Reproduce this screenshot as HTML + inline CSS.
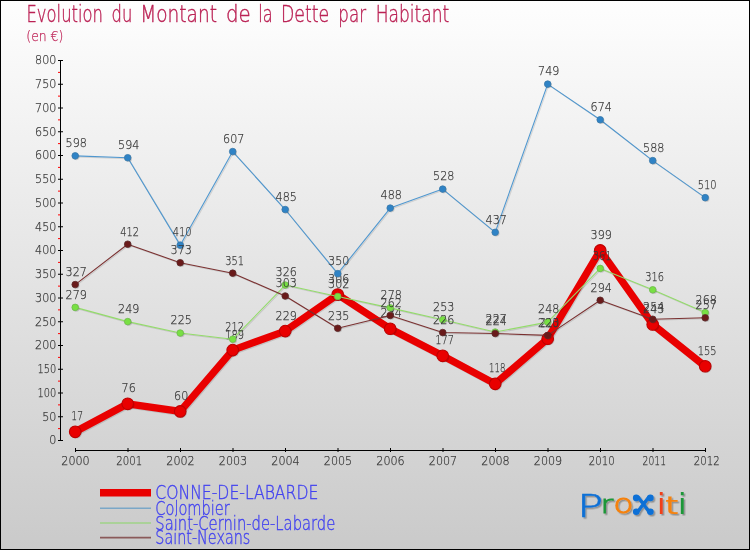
<!DOCTYPE html>
<html lang="fr"><head><meta charset="utf-8"><title>Evolution du Montant de la Dette par Habitant</title>
<style>html,body{margin:0;padding:0;background:#fff}svg{display:block}text{font-family:'DejaVu Sans Light','DejaVu Sans','Liberation Sans',sans-serif;font-weight:200;stroke-width:0.25px}</style></head><body>
<svg width="750" height="550" viewBox="0 0 750 550">
<defs><linearGradient id="bg" x1="0" y1="0" x2="0" y2="1"><stop offset="0" stop-color="#fefefe"/><stop offset="1" stop-color="#cacaca"/></linearGradient></defs>
<rect x="0" y="0" width="750" height="550" fill="#000"/>
<rect x="1" y="1" width="748" height="548" fill="url(#bg)"/>
<text y="22" font-size="23.5" fill="#bb2255" stroke="#bb2255" style="stroke-width:0.4px"><tspan x="26.5" textLength="76.5" lengthAdjust="spacingAndGlyphs">Evolution</tspan> <tspan x="111.5" textLength="20.8" lengthAdjust="spacingAndGlyphs">du</tspan> <tspan x="140.2" textLength="76.8" lengthAdjust="spacingAndGlyphs">Montant</tspan> <tspan x="226.0" textLength="24.7" lengthAdjust="spacingAndGlyphs">de</tspan> <tspan x="258.3" textLength="14.4" lengthAdjust="spacingAndGlyphs">la</tspan> <tspan x="281.0" textLength="48.3" lengthAdjust="spacingAndGlyphs">Dette</tspan> <tspan x="338.3" textLength="27.7" lengthAdjust="spacingAndGlyphs">par</tspan> <tspan x="375.7" textLength="73.6" lengthAdjust="spacingAndGlyphs">Habitant</tspan></text>
<text x="26.3" y="40.8" font-size="14.8" fill="#c0285a" stroke="#c0285a" text-anchor="start" textLength="37.0" lengthAdjust="spacingAndGlyphs">(en €)</text>
<g stroke="#000" stroke-width="1">
<line x1="60.5" y1="60" x2="60.5" y2="441"/>
<line x1="58" y1="440.50" x2="63" y2="440.50"/>
<line x1="58" y1="416.75" x2="63" y2="416.75"/>
<line x1="58" y1="393.00" x2="63" y2="393.00"/>
<line x1="58" y1="369.25" x2="63" y2="369.25"/>
<line x1="58" y1="345.50" x2="63" y2="345.50"/>
<line x1="58" y1="321.75" x2="63" y2="321.75"/>
<line x1="58" y1="298.00" x2="63" y2="298.00"/>
<line x1="58" y1="274.25" x2="63" y2="274.25"/>
<line x1="58" y1="250.50" x2="63" y2="250.50"/>
<line x1="58" y1="226.75" x2="63" y2="226.75"/>
<line x1="58" y1="203.00" x2="63" y2="203.00"/>
<line x1="58" y1="179.25" x2="63" y2="179.25"/>
<line x1="58" y1="155.50" x2="63" y2="155.50"/>
<line x1="58" y1="131.75" x2="63" y2="131.75"/>
<line x1="58" y1="108.00" x2="63" y2="108.00"/>
<line x1="58" y1="84.25" x2="63" y2="84.25"/>
<line x1="58" y1="60.50" x2="63" y2="60.50"/>
<line x1="75" y1="450.5" x2="706" y2="450.5"/>
<line x1="75.50" y1="448" x2="75.50" y2="452"/>
<line x1="128.00" y1="448" x2="128.00" y2="452"/>
<line x1="180.50" y1="448" x2="180.50" y2="452"/>
<line x1="233.00" y1="448" x2="233.00" y2="452"/>
<line x1="285.50" y1="448" x2="285.50" y2="452"/>
<line x1="338.00" y1="448" x2="338.00" y2="452"/>
<line x1="390.50" y1="448" x2="390.50" y2="452"/>
<line x1="443.00" y1="448" x2="443.00" y2="452"/>
<line x1="495.50" y1="448" x2="495.50" y2="452"/>
<line x1="548.00" y1="448" x2="548.00" y2="452"/>
<line x1="600.50" y1="448" x2="600.50" y2="452"/>
<line x1="653.00" y1="448" x2="653.00" y2="452"/>
<line x1="705.50" y1="448" x2="705.50" y2="452"/>
</g>
<g stroke="#f00" stroke-width="1">
<line x1="58" y1="428.62" x2="60" y2="428.62"/>
<line x1="58" y1="404.88" x2="60" y2="404.88"/>
<line x1="58" y1="381.12" x2="60" y2="381.12"/>
<line x1="58" y1="357.38" x2="60" y2="357.38"/>
<line x1="58" y1="333.62" x2="60" y2="333.62"/>
<line x1="58" y1="309.88" x2="60" y2="309.88"/>
<line x1="58" y1="286.12" x2="60" y2="286.12"/>
<line x1="58" y1="262.38" x2="60" y2="262.38"/>
<line x1="58" y1="238.62" x2="60" y2="238.62"/>
<line x1="58" y1="214.88" x2="60" y2="214.88"/>
<line x1="58" y1="191.12" x2="60" y2="191.12"/>
<line x1="58" y1="167.38" x2="60" y2="167.38"/>
<line x1="58" y1="143.62" x2="60" y2="143.62"/>
<line x1="58" y1="119.88" x2="60" y2="119.88"/>
<line x1="58" y1="96.12" x2="60" y2="96.12"/>
<line x1="58" y1="72.38" x2="60" y2="72.38"/>
</g>
<text x="56.4" y="444.4" font-size="13.0" fill="#383838" stroke="#383838" text-anchor="end" textLength="7.1" lengthAdjust="spacingAndGlyphs">0</text>
<text x="56.4" y="420.6" font-size="13.0" fill="#383838" stroke="#383838" text-anchor="end" textLength="14.2" lengthAdjust="spacingAndGlyphs">50</text>
<text x="56.4" y="396.9" font-size="13.0" fill="#383838" stroke="#383838" text-anchor="end" textLength="18.8" lengthAdjust="spacingAndGlyphs">100</text>
<text x="56.4" y="373.1" font-size="13.0" fill="#383838" stroke="#383838" text-anchor="end" textLength="18.8" lengthAdjust="spacingAndGlyphs">150</text>
<text x="56.4" y="349.4" font-size="13.0" fill="#383838" stroke="#383838" text-anchor="end" textLength="21.3" lengthAdjust="spacingAndGlyphs">200</text>
<text x="56.4" y="325.6" font-size="13.0" fill="#383838" stroke="#383838" text-anchor="end" textLength="21.3" lengthAdjust="spacingAndGlyphs">250</text>
<text x="56.4" y="301.9" font-size="13.0" fill="#383838" stroke="#383838" text-anchor="end" textLength="21.3" lengthAdjust="spacingAndGlyphs">300</text>
<text x="56.4" y="278.1" font-size="13.0" fill="#383838" stroke="#383838" text-anchor="end" textLength="21.3" lengthAdjust="spacingAndGlyphs">350</text>
<text x="56.4" y="254.4" font-size="13.0" fill="#383838" stroke="#383838" text-anchor="end" textLength="21.3" lengthAdjust="spacingAndGlyphs">400</text>
<text x="56.4" y="230.7" font-size="13.0" fill="#383838" stroke="#383838" text-anchor="end" textLength="21.3" lengthAdjust="spacingAndGlyphs">450</text>
<text x="56.4" y="206.9" font-size="13.0" fill="#383838" stroke="#383838" text-anchor="end" textLength="21.3" lengthAdjust="spacingAndGlyphs">500</text>
<text x="56.4" y="183.2" font-size="13.0" fill="#383838" stroke="#383838" text-anchor="end" textLength="21.3" lengthAdjust="spacingAndGlyphs">550</text>
<text x="56.4" y="159.4" font-size="13.0" fill="#383838" stroke="#383838" text-anchor="end" textLength="21.3" lengthAdjust="spacingAndGlyphs">600</text>
<text x="56.4" y="135.7" font-size="13.0" fill="#383838" stroke="#383838" text-anchor="end" textLength="21.3" lengthAdjust="spacingAndGlyphs">650</text>
<text x="56.4" y="111.9" font-size="13.0" fill="#383838" stroke="#383838" text-anchor="end" textLength="21.3" lengthAdjust="spacingAndGlyphs">700</text>
<text x="56.4" y="88.2" font-size="13.0" fill="#383838" stroke="#383838" text-anchor="end" textLength="21.3" lengthAdjust="spacingAndGlyphs">750</text>
<text x="56.4" y="64.4" font-size="13.0" fill="#383838" stroke="#383838" text-anchor="end" textLength="21.3" lengthAdjust="spacingAndGlyphs">800</text>
<text x="75.5" y="464.7" font-size="13.0" fill="#383838" stroke="#383838" text-anchor="middle" textLength="28.4" lengthAdjust="spacingAndGlyphs">2000</text>
<text x="129.3" y="464.7" font-size="13.0" fill="#383838" stroke="#383838" text-anchor="middle" textLength="25.9" lengthAdjust="spacingAndGlyphs">2001</text>
<text x="180.5" y="464.7" font-size="13.0" fill="#383838" stroke="#383838" text-anchor="middle" textLength="28.4" lengthAdjust="spacingAndGlyphs">2002</text>
<text x="233.0" y="464.7" font-size="13.0" fill="#383838" stroke="#383838" text-anchor="middle" textLength="28.4" lengthAdjust="spacingAndGlyphs">2003</text>
<text x="285.5" y="464.7" font-size="13.0" fill="#383838" stroke="#383838" text-anchor="middle" textLength="28.4" lengthAdjust="spacingAndGlyphs">2004</text>
<text x="338.0" y="464.7" font-size="13.0" fill="#383838" stroke="#383838" text-anchor="middle" textLength="28.4" lengthAdjust="spacingAndGlyphs">2005</text>
<text x="390.5" y="464.7" font-size="13.0" fill="#383838" stroke="#383838" text-anchor="middle" textLength="28.4" lengthAdjust="spacingAndGlyphs">2006</text>
<text x="443.0" y="464.7" font-size="13.0" fill="#383838" stroke="#383838" text-anchor="middle" textLength="28.4" lengthAdjust="spacingAndGlyphs">2007</text>
<text x="495.5" y="464.7" font-size="13.0" fill="#383838" stroke="#383838" text-anchor="middle" textLength="28.4" lengthAdjust="spacingAndGlyphs">2008</text>
<text x="548.0" y="464.7" font-size="13.0" fill="#383838" stroke="#383838" text-anchor="middle" textLength="28.4" lengthAdjust="spacingAndGlyphs">2009</text>
<text x="601.8" y="464.7" font-size="13.0" fill="#383838" stroke="#383838" text-anchor="middle" textLength="25.9" lengthAdjust="spacingAndGlyphs">2010</text>
<text x="654.3" y="464.7" font-size="13.0" fill="#383838" stroke="#383838" text-anchor="middle" textLength="23.4" lengthAdjust="spacingAndGlyphs">2011</text>
<text x="706.8" y="464.7" font-size="13.0" fill="#383838" stroke="#383838" text-anchor="middle" textLength="25.9" lengthAdjust="spacingAndGlyphs">2012</text>
<polyline points="75.20,431.82 127.70,403.80 180.20,411.40 232.70,350.12 285.20,331.12 337.70,294.55 390.20,328.75 442.70,355.82 495.20,383.85 547.70,338.72 600.20,250.38 652.70,324.47 705.20,366.27" fill="none" stroke="#000" stroke-opacity="0.12" stroke-width="7.3" stroke-linejoin="round" transform="translate(1,1)"/>
<polyline points="75.20,431.82 127.70,403.80 180.20,411.40 232.70,350.12 285.20,331.12 337.70,294.55 390.20,328.75 442.70,355.82 495.20,383.85 547.70,338.72 600.20,250.38 652.70,324.47 705.20,366.27" fill="none" stroke="#e90000" stroke-width="7.3" stroke-linejoin="round"/>
<text x="77.2" y="420.3" font-size="13.0" fill="#383838" stroke="#383838" text-anchor="middle" textLength="11.7" lengthAdjust="spacingAndGlyphs">17</text>
<text x="128.7" y="392.3" font-size="13.0" fill="#383838" stroke="#383838" text-anchor="middle" textLength="14.2" lengthAdjust="spacingAndGlyphs">76</text>
<text x="181.2" y="399.9" font-size="13.0" fill="#383838" stroke="#383838" text-anchor="middle" textLength="14.2" lengthAdjust="spacingAndGlyphs">60</text>
<text x="234.7" y="338.6" font-size="13.0" fill="#383838" stroke="#383838" text-anchor="middle" textLength="18.8" lengthAdjust="spacingAndGlyphs">189</text>
<text x="286.2" y="319.6" font-size="13.0" fill="#383838" stroke="#383838" text-anchor="middle" textLength="21.3" lengthAdjust="spacingAndGlyphs">229</text>
<text x="338.7" y="283.0" font-size="13.0" fill="#383838" stroke="#383838" text-anchor="middle" textLength="21.3" lengthAdjust="spacingAndGlyphs">306</text>
<text x="391.2" y="317.2" font-size="13.0" fill="#383838" stroke="#383838" text-anchor="middle" textLength="21.3" lengthAdjust="spacingAndGlyphs">234</text>
<text x="444.7" y="344.3" font-size="13.0" fill="#383838" stroke="#383838" text-anchor="middle" textLength="18.8" lengthAdjust="spacingAndGlyphs">177</text>
<text x="497.2" y="372.3" font-size="13.0" fill="#383838" stroke="#383838" text-anchor="middle" textLength="16.3" lengthAdjust="spacingAndGlyphs">118</text>
<text x="549.7" y="327.2" font-size="13.0" fill="#383838" stroke="#383838" text-anchor="middle" textLength="18.8" lengthAdjust="spacingAndGlyphs">213</text>
<text x="601.2" y="238.9" font-size="13.0" fill="#383838" stroke="#383838" text-anchor="middle" textLength="21.3" lengthAdjust="spacingAndGlyphs">399</text>
<text x="653.7" y="313.0" font-size="13.0" fill="#383838" stroke="#383838" text-anchor="middle" textLength="21.3" lengthAdjust="spacingAndGlyphs">243</text>
<text x="707.2" y="354.8" font-size="13.0" fill="#383838" stroke="#383838" text-anchor="middle" textLength="18.8" lengthAdjust="spacingAndGlyphs">155</text>
<circle cx="76.20" cy="432.82" r="5.8" fill="#000" fill-opacity="0.15"/>
<circle cx="75.20" cy="431.82" r="5.8" fill="#e90000" stroke="#bd0000" stroke-width="1.1"/>
<circle cx="128.70" cy="404.80" r="5.8" fill="#000" fill-opacity="0.15"/>
<circle cx="127.70" cy="403.80" r="5.8" fill="#e90000" stroke="#bd0000" stroke-width="1.1"/>
<circle cx="181.20" cy="412.40" r="5.8" fill="#000" fill-opacity="0.15"/>
<circle cx="180.20" cy="411.40" r="5.8" fill="#e90000" stroke="#bd0000" stroke-width="1.1"/>
<circle cx="233.70" cy="351.12" r="5.8" fill="#000" fill-opacity="0.15"/>
<circle cx="232.70" cy="350.12" r="5.8" fill="#e90000" stroke="#bd0000" stroke-width="1.1"/>
<circle cx="286.20" cy="332.12" r="5.8" fill="#000" fill-opacity="0.15"/>
<circle cx="285.20" cy="331.12" r="5.8" fill="#e90000" stroke="#bd0000" stroke-width="1.1"/>
<circle cx="338.70" cy="295.55" r="5.8" fill="#000" fill-opacity="0.15"/>
<circle cx="337.70" cy="294.55" r="5.8" fill="#e90000" stroke="#bd0000" stroke-width="1.1"/>
<circle cx="391.20" cy="329.75" r="5.8" fill="#000" fill-opacity="0.15"/>
<circle cx="390.20" cy="328.75" r="5.8" fill="#e90000" stroke="#bd0000" stroke-width="1.1"/>
<circle cx="443.70" cy="356.82" r="5.8" fill="#000" fill-opacity="0.15"/>
<circle cx="442.70" cy="355.82" r="5.8" fill="#e90000" stroke="#bd0000" stroke-width="1.1"/>
<circle cx="496.20" cy="384.85" r="5.8" fill="#000" fill-opacity="0.15"/>
<circle cx="495.20" cy="383.85" r="5.8" fill="#e90000" stroke="#bd0000" stroke-width="1.1"/>
<circle cx="548.70" cy="339.72" r="5.8" fill="#000" fill-opacity="0.15"/>
<circle cx="547.70" cy="338.72" r="5.8" fill="#e90000" stroke="#bd0000" stroke-width="1.1"/>
<circle cx="601.20" cy="251.38" r="5.8" fill="#000" fill-opacity="0.15"/>
<circle cx="600.20" cy="250.38" r="5.8" fill="#e90000" stroke="#bd0000" stroke-width="1.1"/>
<circle cx="653.70" cy="325.47" r="5.8" fill="#000" fill-opacity="0.15"/>
<circle cx="652.70" cy="324.47" r="5.8" fill="#e90000" stroke="#bd0000" stroke-width="1.1"/>
<circle cx="706.20" cy="367.27" r="5.8" fill="#000" fill-opacity="0.15"/>
<circle cx="705.20" cy="366.27" r="5.8" fill="#e90000" stroke="#bd0000" stroke-width="1.1"/>
<polyline points="75.20,155.85 127.70,157.75 180.20,245.15 232.70,151.57 285.20,209.52 337.70,273.65 390.20,208.10 442.70,189.10 495.20,232.32 547.70,84.12 600.20,119.75 652.70,160.60 705.20,197.65" fill="none" stroke="#000" stroke-opacity="0.12" stroke-width="1.1" stroke-linejoin="round" transform="translate(1,1)"/>
<polyline points="75.20,155.85 127.70,157.75 180.20,245.15 232.70,151.57 285.20,209.52 337.70,273.65 390.20,208.10 442.70,189.10 495.20,232.32 547.70,84.12 600.20,119.75 652.70,160.60 705.20,197.65" fill="none" stroke="#4f97cf" stroke-width="1.1" stroke-linejoin="round"/>
<text x="76.2" y="147.1" font-size="13.0" fill="#383838" stroke="#383838" text-anchor="middle" textLength="21.3" lengthAdjust="spacingAndGlyphs">598</text>
<text x="128.7" y="149.1" font-size="13.0" fill="#383838" stroke="#383838" text-anchor="middle" textLength="21.3" lengthAdjust="spacingAndGlyphs">594</text>
<text x="182.2" y="236.4" font-size="13.0" fill="#383838" stroke="#383838" text-anchor="middle" textLength="18.8" lengthAdjust="spacingAndGlyphs">410</text>
<text x="233.7" y="142.9" font-size="13.0" fill="#383838" stroke="#383838" text-anchor="middle" textLength="21.3" lengthAdjust="spacingAndGlyphs">607</text>
<text x="286.2" y="200.8" font-size="13.0" fill="#383838" stroke="#383838" text-anchor="middle" textLength="21.3" lengthAdjust="spacingAndGlyphs">485</text>
<text x="338.7" y="264.9" font-size="13.0" fill="#383838" stroke="#383838" text-anchor="middle" textLength="21.3" lengthAdjust="spacingAndGlyphs">350</text>
<text x="391.2" y="199.4" font-size="13.0" fill="#383838" stroke="#383838" text-anchor="middle" textLength="21.3" lengthAdjust="spacingAndGlyphs">488</text>
<text x="443.7" y="180.4" font-size="13.0" fill="#383838" stroke="#383838" text-anchor="middle" textLength="21.3" lengthAdjust="spacingAndGlyphs">528</text>
<text x="496.2" y="223.6" font-size="13.0" fill="#383838" stroke="#383838" text-anchor="middle" textLength="21.3" lengthAdjust="spacingAndGlyphs">437</text>
<text x="548.7" y="75.4" font-size="13.0" fill="#383838" stroke="#383838" text-anchor="middle" textLength="21.3" lengthAdjust="spacingAndGlyphs">749</text>
<text x="601.2" y="111.0" font-size="13.0" fill="#383838" stroke="#383838" text-anchor="middle" textLength="21.3" lengthAdjust="spacingAndGlyphs">674</text>
<text x="653.7" y="151.9" font-size="13.0" fill="#383838" stroke="#383838" text-anchor="middle" textLength="21.3" lengthAdjust="spacingAndGlyphs">588</text>
<text x="707.2" y="188.9" font-size="13.0" fill="#383838" stroke="#383838" text-anchor="middle" textLength="18.8" lengthAdjust="spacingAndGlyphs">510</text>
<circle cx="76.20" cy="156.85" r="3.3" fill="#000" fill-opacity="0.15"/>
<circle cx="75.20" cy="155.85" r="3.3" fill="#2f83c6" stroke="#3a78a8" stroke-width="0.8"/>
<circle cx="128.70" cy="158.75" r="3.3" fill="#000" fill-opacity="0.15"/>
<circle cx="127.70" cy="157.75" r="3.3" fill="#2f83c6" stroke="#3a78a8" stroke-width="0.8"/>
<circle cx="181.20" cy="246.15" r="3.3" fill="#000" fill-opacity="0.15"/>
<circle cx="180.20" cy="245.15" r="3.3" fill="#2f83c6" stroke="#3a78a8" stroke-width="0.8"/>
<circle cx="233.70" cy="152.57" r="3.3" fill="#000" fill-opacity="0.15"/>
<circle cx="232.70" cy="151.57" r="3.3" fill="#2f83c6" stroke="#3a78a8" stroke-width="0.8"/>
<circle cx="286.20" cy="210.52" r="3.3" fill="#000" fill-opacity="0.15"/>
<circle cx="285.20" cy="209.52" r="3.3" fill="#2f83c6" stroke="#3a78a8" stroke-width="0.8"/>
<circle cx="338.70" cy="274.65" r="3.3" fill="#000" fill-opacity="0.15"/>
<circle cx="337.70" cy="273.65" r="3.3" fill="#2f83c6" stroke="#3a78a8" stroke-width="0.8"/>
<circle cx="391.20" cy="209.10" r="3.3" fill="#000" fill-opacity="0.15"/>
<circle cx="390.20" cy="208.10" r="3.3" fill="#2f83c6" stroke="#3a78a8" stroke-width="0.8"/>
<circle cx="443.70" cy="190.10" r="3.3" fill="#000" fill-opacity="0.15"/>
<circle cx="442.70" cy="189.10" r="3.3" fill="#2f83c6" stroke="#3a78a8" stroke-width="0.8"/>
<circle cx="496.20" cy="233.32" r="3.3" fill="#000" fill-opacity="0.15"/>
<circle cx="495.20" cy="232.32" r="3.3" fill="#2f83c6" stroke="#3a78a8" stroke-width="0.8"/>
<circle cx="548.70" cy="85.12" r="3.3" fill="#000" fill-opacity="0.15"/>
<circle cx="547.70" cy="84.12" r="3.3" fill="#2f83c6" stroke="#3a78a8" stroke-width="0.8"/>
<circle cx="601.20" cy="120.75" r="3.3" fill="#000" fill-opacity="0.15"/>
<circle cx="600.20" cy="119.75" r="3.3" fill="#2f83c6" stroke="#3a78a8" stroke-width="0.8"/>
<circle cx="653.70" cy="161.60" r="3.3" fill="#000" fill-opacity="0.15"/>
<circle cx="652.70" cy="160.60" r="3.3" fill="#2f83c6" stroke="#3a78a8" stroke-width="0.8"/>
<circle cx="706.20" cy="198.65" r="3.3" fill="#000" fill-opacity="0.15"/>
<circle cx="705.20" cy="197.65" r="3.3" fill="#2f83c6" stroke="#3a78a8" stroke-width="0.8"/>
<polyline points="75.20,307.38 127.70,321.62 180.20,333.02 232.70,339.20 285.20,285.05 337.70,296.45 390.20,307.85 442.70,319.72 495.20,332.07 547.70,322.10 600.20,268.42 652.70,289.80 705.20,312.60" fill="none" stroke="#000" stroke-opacity="0.12" stroke-width="1.1" stroke-linejoin="round" transform="translate(1,1)"/>
<polyline points="75.20,307.38 127.70,321.62 180.20,333.02 232.70,339.20 285.20,285.05 337.70,296.45 390.20,307.85 442.70,319.72 495.20,332.07 547.70,322.10 600.20,268.42 652.70,289.80 705.20,312.60" fill="none" stroke="#93dc6a" stroke-width="1.1" stroke-linejoin="round"/>
<text x="76.2" y="298.7" font-size="13.0" fill="#383838" stroke="#383838" text-anchor="middle" textLength="21.3" lengthAdjust="spacingAndGlyphs">279</text>
<text x="128.7" y="312.9" font-size="13.0" fill="#383838" stroke="#383838" text-anchor="middle" textLength="21.3" lengthAdjust="spacingAndGlyphs">249</text>
<text x="181.2" y="324.3" font-size="13.0" fill="#383838" stroke="#383838" text-anchor="middle" textLength="21.3" lengthAdjust="spacingAndGlyphs">225</text>
<text x="234.7" y="330.5" font-size="13.0" fill="#383838" stroke="#383838" text-anchor="middle" textLength="18.8" lengthAdjust="spacingAndGlyphs">212</text>
<text x="286.2" y="276.3" font-size="13.0" fill="#383838" stroke="#383838" text-anchor="middle" textLength="21.3" lengthAdjust="spacingAndGlyphs">326</text>
<text x="338.7" y="287.8" font-size="13.0" fill="#383838" stroke="#383838" text-anchor="middle" textLength="21.3" lengthAdjust="spacingAndGlyphs">302</text>
<text x="391.2" y="299.2" font-size="13.0" fill="#383838" stroke="#383838" text-anchor="middle" textLength="21.3" lengthAdjust="spacingAndGlyphs">278</text>
<text x="443.7" y="311.0" font-size="13.0" fill="#383838" stroke="#383838" text-anchor="middle" textLength="21.3" lengthAdjust="spacingAndGlyphs">253</text>
<text x="496.2" y="323.4" font-size="13.0" fill="#383838" stroke="#383838" text-anchor="middle" textLength="21.3" lengthAdjust="spacingAndGlyphs">227</text>
<text x="548.7" y="313.4" font-size="13.0" fill="#383838" stroke="#383838" text-anchor="middle" textLength="21.3" lengthAdjust="spacingAndGlyphs">248</text>
<text x="602.2" y="259.7" font-size="13.0" fill="#383838" stroke="#383838" text-anchor="middle" textLength="18.8" lengthAdjust="spacingAndGlyphs">361</text>
<text x="654.7" y="281.1" font-size="13.0" fill="#383838" stroke="#383838" text-anchor="middle" textLength="18.8" lengthAdjust="spacingAndGlyphs">316</text>
<text x="706.2" y="303.9" font-size="13.0" fill="#383838" stroke="#383838" text-anchor="middle" textLength="21.3" lengthAdjust="spacingAndGlyphs">268</text>
<circle cx="76.20" cy="308.38" r="3.3" fill="#000" fill-opacity="0.15"/>
<circle cx="75.20" cy="307.38" r="3.3" fill="#78e043" stroke="#6fb84e" stroke-width="0.8"/>
<circle cx="128.70" cy="322.62" r="3.3" fill="#000" fill-opacity="0.15"/>
<circle cx="127.70" cy="321.62" r="3.3" fill="#78e043" stroke="#6fb84e" stroke-width="0.8"/>
<circle cx="181.20" cy="334.02" r="3.3" fill="#000" fill-opacity="0.15"/>
<circle cx="180.20" cy="333.02" r="3.3" fill="#78e043" stroke="#6fb84e" stroke-width="0.8"/>
<circle cx="233.70" cy="340.20" r="3.3" fill="#000" fill-opacity="0.15"/>
<circle cx="232.70" cy="339.20" r="3.3" fill="#78e043" stroke="#6fb84e" stroke-width="0.8"/>
<circle cx="286.20" cy="286.05" r="3.3" fill="#000" fill-opacity="0.15"/>
<circle cx="285.20" cy="285.05" r="3.3" fill="#78e043" stroke="#6fb84e" stroke-width="0.8"/>
<circle cx="338.70" cy="297.45" r="3.3" fill="#000" fill-opacity="0.15"/>
<circle cx="337.70" cy="296.45" r="3.3" fill="#78e043" stroke="#6fb84e" stroke-width="0.8"/>
<circle cx="391.20" cy="308.85" r="3.3" fill="#000" fill-opacity="0.15"/>
<circle cx="390.20" cy="307.85" r="3.3" fill="#78e043" stroke="#6fb84e" stroke-width="0.8"/>
<circle cx="443.70" cy="320.72" r="3.3" fill="#000" fill-opacity="0.15"/>
<circle cx="442.70" cy="319.72" r="3.3" fill="#78e043" stroke="#6fb84e" stroke-width="0.8"/>
<circle cx="496.20" cy="333.07" r="3.3" fill="#000" fill-opacity="0.15"/>
<circle cx="495.20" cy="332.07" r="3.3" fill="#78e043" stroke="#6fb84e" stroke-width="0.8"/>
<circle cx="548.70" cy="323.10" r="3.3" fill="#000" fill-opacity="0.15"/>
<circle cx="547.70" cy="322.10" r="3.3" fill="#78e043" stroke="#6fb84e" stroke-width="0.8"/>
<circle cx="601.20" cy="269.42" r="3.3" fill="#000" fill-opacity="0.15"/>
<circle cx="600.20" cy="268.42" r="3.3" fill="#78e043" stroke="#6fb84e" stroke-width="0.8"/>
<circle cx="653.70" cy="290.80" r="3.3" fill="#000" fill-opacity="0.15"/>
<circle cx="652.70" cy="289.80" r="3.3" fill="#78e043" stroke="#6fb84e" stroke-width="0.8"/>
<circle cx="706.20" cy="313.60" r="3.3" fill="#000" fill-opacity="0.15"/>
<circle cx="705.20" cy="312.60" r="3.3" fill="#78e043" stroke="#6fb84e" stroke-width="0.8"/>
<polyline points="75.20,284.57 127.70,244.20 180.20,262.73 232.70,273.17 285.20,295.98 337.70,328.27 390.20,315.45 442.70,332.55 495.20,333.50 547.70,335.40 600.20,300.25 652.70,319.25 705.20,317.82" fill="none" stroke="#000" stroke-opacity="0.12" stroke-width="1.1" stroke-linejoin="round" transform="translate(1,1)"/>
<polyline points="75.20,284.57 127.70,244.20 180.20,262.73 232.70,273.17 285.20,295.98 337.70,328.27 390.20,315.45 442.70,332.55 495.20,333.50 547.70,335.40 600.20,300.25 652.70,319.25 705.20,317.82" fill="none" stroke="#7a3030" stroke-width="1.1" stroke-linejoin="round"/>
<text x="76.2" y="275.9" font-size="13.0" fill="#383838" stroke="#383838" text-anchor="middle" textLength="21.3" lengthAdjust="spacingAndGlyphs">327</text>
<text x="129.7" y="235.5" font-size="13.0" fill="#383838" stroke="#383838" text-anchor="middle" textLength="18.8" lengthAdjust="spacingAndGlyphs">412</text>
<text x="181.2" y="254.0" font-size="13.0" fill="#383838" stroke="#383838" text-anchor="middle" textLength="21.3" lengthAdjust="spacingAndGlyphs">373</text>
<text x="234.7" y="264.5" font-size="13.0" fill="#383838" stroke="#383838" text-anchor="middle" textLength="18.8" lengthAdjust="spacingAndGlyphs">351</text>
<text x="286.2" y="287.3" font-size="13.0" fill="#383838" stroke="#383838" text-anchor="middle" textLength="21.3" lengthAdjust="spacingAndGlyphs">303</text>
<text x="338.7" y="319.6" font-size="13.0" fill="#383838" stroke="#383838" text-anchor="middle" textLength="21.3" lengthAdjust="spacingAndGlyphs">235</text>
<text x="391.2" y="306.8" font-size="13.0" fill="#383838" stroke="#383838" text-anchor="middle" textLength="21.3" lengthAdjust="spacingAndGlyphs">262</text>
<text x="443.7" y="323.8" font-size="13.0" fill="#383838" stroke="#383838" text-anchor="middle" textLength="21.3" lengthAdjust="spacingAndGlyphs">226</text>
<text x="496.2" y="324.8" font-size="13.0" fill="#383838" stroke="#383838" text-anchor="middle" textLength="21.3" lengthAdjust="spacingAndGlyphs">224</text>
<text x="548.7" y="326.7" font-size="13.0" fill="#383838" stroke="#383838" text-anchor="middle" textLength="21.3" lengthAdjust="spacingAndGlyphs">220</text>
<text x="601.2" y="291.6" font-size="13.0" fill="#383838" stroke="#383838" text-anchor="middle" textLength="21.3" lengthAdjust="spacingAndGlyphs">294</text>
<text x="653.7" y="310.6" font-size="13.0" fill="#383838" stroke="#383838" text-anchor="middle" textLength="21.3" lengthAdjust="spacingAndGlyphs">254</text>
<text x="706.2" y="309.1" font-size="13.0" fill="#383838" stroke="#383838" text-anchor="middle" textLength="21.3" lengthAdjust="spacingAndGlyphs">257</text>
<circle cx="76.20" cy="285.57" r="3.3" fill="#000" fill-opacity="0.15"/>
<circle cx="75.20" cy="284.57" r="3.3" fill="#6a1a1a" stroke="#5a2a2a" stroke-width="0.8"/>
<circle cx="128.70" cy="245.20" r="3.3" fill="#000" fill-opacity="0.15"/>
<circle cx="127.70" cy="244.20" r="3.3" fill="#6a1a1a" stroke="#5a2a2a" stroke-width="0.8"/>
<circle cx="181.20" cy="263.73" r="3.3" fill="#000" fill-opacity="0.15"/>
<circle cx="180.20" cy="262.73" r="3.3" fill="#6a1a1a" stroke="#5a2a2a" stroke-width="0.8"/>
<circle cx="233.70" cy="274.17" r="3.3" fill="#000" fill-opacity="0.15"/>
<circle cx="232.70" cy="273.17" r="3.3" fill="#6a1a1a" stroke="#5a2a2a" stroke-width="0.8"/>
<circle cx="286.20" cy="296.98" r="3.3" fill="#000" fill-opacity="0.15"/>
<circle cx="285.20" cy="295.98" r="3.3" fill="#6a1a1a" stroke="#5a2a2a" stroke-width="0.8"/>
<circle cx="338.70" cy="329.27" r="3.3" fill="#000" fill-opacity="0.15"/>
<circle cx="337.70" cy="328.27" r="3.3" fill="#6a1a1a" stroke="#5a2a2a" stroke-width="0.8"/>
<circle cx="391.20" cy="316.45" r="3.3" fill="#000" fill-opacity="0.15"/>
<circle cx="390.20" cy="315.45" r="3.3" fill="#6a1a1a" stroke="#5a2a2a" stroke-width="0.8"/>
<circle cx="443.70" cy="333.55" r="3.3" fill="#000" fill-opacity="0.15"/>
<circle cx="442.70" cy="332.55" r="3.3" fill="#6a1a1a" stroke="#5a2a2a" stroke-width="0.8"/>
<circle cx="496.20" cy="334.50" r="3.3" fill="#000" fill-opacity="0.15"/>
<circle cx="495.20" cy="333.50" r="3.3" fill="#6a1a1a" stroke="#5a2a2a" stroke-width="0.8"/>
<circle cx="548.70" cy="336.40" r="3.3" fill="#000" fill-opacity="0.15"/>
<circle cx="547.70" cy="335.40" r="3.3" fill="#6a1a1a" stroke="#5a2a2a" stroke-width="0.8"/>
<circle cx="601.20" cy="301.25" r="3.3" fill="#000" fill-opacity="0.15"/>
<circle cx="600.20" cy="300.25" r="3.3" fill="#6a1a1a" stroke="#5a2a2a" stroke-width="0.8"/>
<circle cx="653.70" cy="320.25" r="3.3" fill="#000" fill-opacity="0.15"/>
<circle cx="652.70" cy="319.25" r="3.3" fill="#6a1a1a" stroke="#5a2a2a" stroke-width="0.8"/>
<circle cx="706.20" cy="318.82" r="3.3" fill="#000" fill-opacity="0.15"/>
<circle cx="705.20" cy="317.82" r="3.3" fill="#6a1a1a" stroke="#5a2a2a" stroke-width="0.8"/>
<line x1="100" y1="492.7" x2="151" y2="492.7" stroke="#e90000" stroke-width="7.4"/>
<text x="155.3" y="498.6" font-size="19.3" fill="#4343f0" stroke="#4343f0" text-anchor="start" textLength="163.0" lengthAdjust="spacingAndGlyphs" style="stroke-width:0.4px">CONNE-DE-LABARDE</text>
<line x1="100" y1="508.2" x2="151" y2="508.2" stroke="#7ba7c7" stroke-width="1.6"/>
<text x="155.3" y="515.0" font-size="19.3" fill="#4343f0" stroke="#4343f0" text-anchor="start" textLength="74.5" lengthAdjust="spacingAndGlyphs" style="stroke-width:0.4px">Colombier</text>
<line x1="100" y1="523.0" x2="151" y2="523.0" stroke="#9fd387" stroke-width="1.6"/>
<text x="155.3" y="529.9" font-size="19.3" fill="#4343f0" stroke="#4343f0" text-anchor="start" textLength="180.0" lengthAdjust="spacingAndGlyphs" style="stroke-width:0.4px">Saint-Cernin-de-Labarde</text>
<line x1="100" y1="537.6" x2="151" y2="537.6" stroke="#8a5a5a" stroke-width="1.6"/>
<text x="155.3" y="544.2" font-size="19.3" fill="#4343f0" stroke="#4343f0" text-anchor="start" textLength="95.0" lengthAdjust="spacingAndGlyphs" style="stroke-width:0.4px">Saint-Nexans</text>
<defs><filter id="ls" x="-20%" y="-20%" width="140%" height="150%"><feDropShadow dx="1.5" dy="1.5" stdDeviation="0.7" flood-color="#000" flood-opacity="0.3"/></filter></defs>
<g filter="url(#ls)">
<text transform="translate(577.51,517.20) scale(1.628,1.226)" font-size="26" fill="#0f70d6" stroke="#0f70d6" style="font-family:'DejaVu Sans Light','DejaVu Sans','Liberation Sans',sans-serif;font-weight:200;stroke-width:0.60px">P</text>
<text transform="translate(600.44,513.40) scale(1.187,0.952)" font-size="26" fill="#1f9739" stroke="#1f9739" style="font-family:'DejaVu Sans Light','DejaVu Sans','Liberation Sans',sans-serif;font-weight:200;stroke-width:0.95px">r</text>
<text transform="translate(613.15,512.88) scale(1.277,1.047)" font-size="26" fill="#f5820f" stroke="#f5820f" style="font-family:'DejaVu Sans Light','DejaVu Sans','Liberation Sans',sans-serif;font-weight:200;stroke-width:0.95px">o</text>
<text transform="translate(634.17,513.00) scale(1.029,1.009)" font-size="30" fill="#0f70d6" stroke="#0f70d6" style="font-family:'DejaVu Sans','Liberation Sans',sans-serif;font-weight:400;stroke-width:0.70px">x</text>
<text transform="translate(657.32,513.90) scale(1.111,1.063)" font-size="26" fill="#f0401a" stroke="#f0401a" style="font-family:'DejaVu Sans','Liberation Sans',sans-serif;font-weight:400;stroke-width:0.20px">i</text>
<text transform="translate(665.24,513.90) scale(1.280,0.970)" font-size="26" fill="#f5820f" stroke="#f5820f" style="font-family:'DejaVu Sans','Liberation Sans',sans-serif;font-weight:400;stroke-width:0.20px">t</text>
<text transform="translate(678.32,513.90) scale(1.111,1.063)" font-size="26" fill="#1f9739" stroke="#1f9739" style="font-family:'DejaVu Sans','Liberation Sans',sans-serif;font-weight:400;stroke-width:0.20px">i</text>
<circle cx="636.2" cy="497.9" r="3.3" fill="#0f70d6"/>
<circle cx="650.4" cy="497.9" r="3.3" fill="#0f70d6"/>
<circle cx="636.2" cy="511.7" r="3.3" fill="#0f70d6"/>
<circle cx="650.4" cy="511.7" r="3.3" fill="#0f70d6"/>
</g>
</svg></body></html>
